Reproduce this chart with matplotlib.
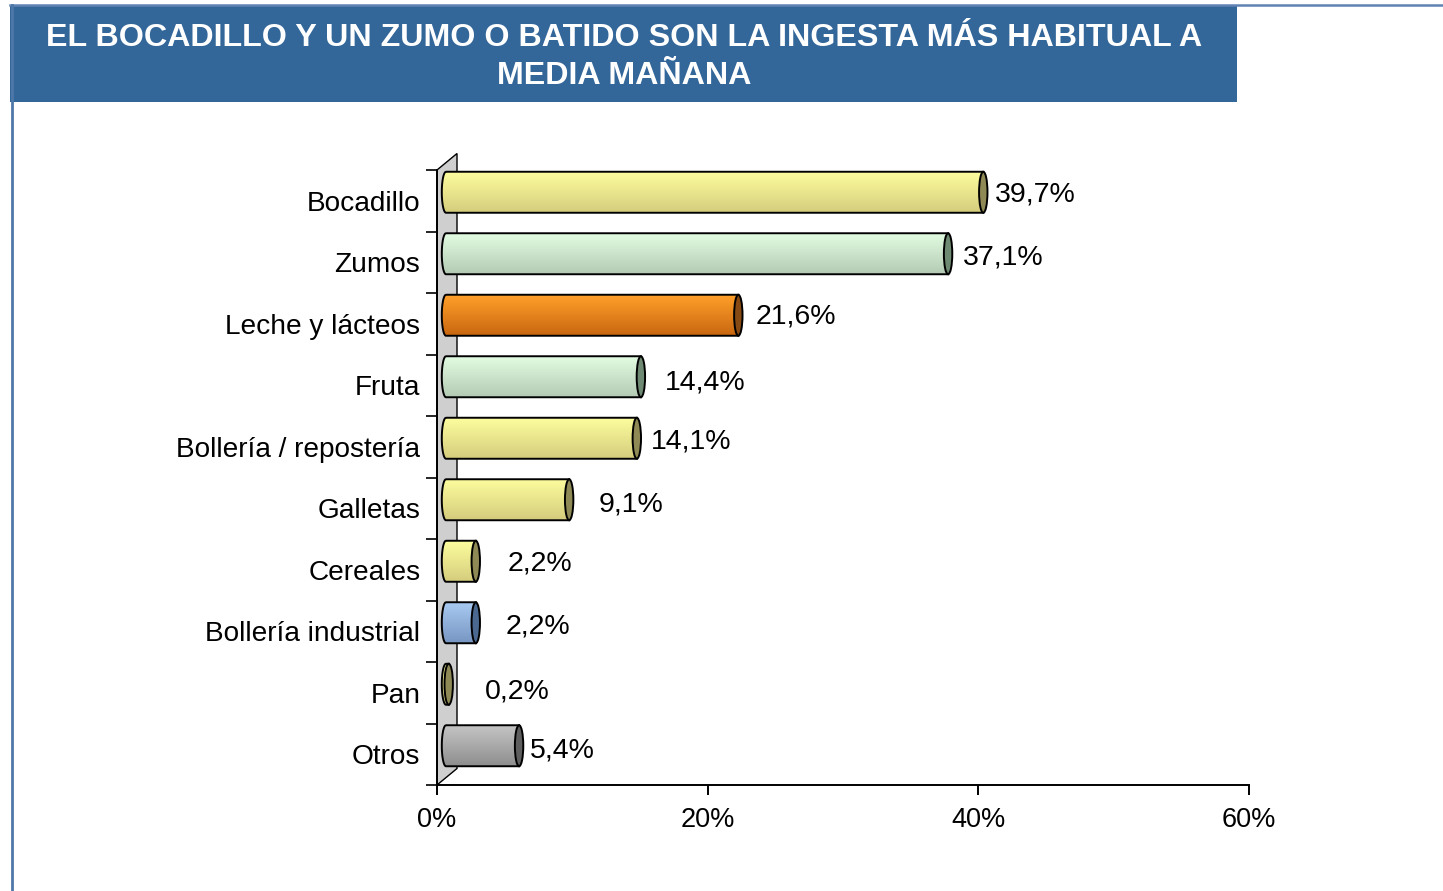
import matplotlib
matplotlib.use("Agg")
import matplotlib.pyplot as plt
import numpy as np
from matplotlib.patches import Rectangle, Ellipse, Polygon, PathPatch
from matplotlib.path import Path
from matplotlib.lines import Line2D
from matplotlib.colors import to_rgb

plt.rcParams['font.family'] = ['Liberation Sans', 'DejaVu Sans']

# ---------------- data ----------------
title_lines = ["EL BOCADILLO Y UN ZUMO O BATIDO SON LA INGESTA MÁS HABITUAL A",
               "MEDIA MAÑANA"]
categories = ["Bocadillo", "Zumos", "Leche y lácteos", "Fruta",
              "Bollería / repostería", "Galletas", "Cereales",
              "Bollería industrial", "Pan", "Otros"]
values = [39.7, 37.1, 21.6, 14.4, 14.1, 9.1, 2.2, 2.2, 0.2, 5.4]
value_labels = ["39,7%", "37,1%", "21,6%", "14,4%", "14,1%",
                "9,1%", "2,2%", "2,2%", "0,2%", "5,4%"]
color_keys = ["yellow", "green", "orange", "green", "yellow",
              "yellow", "yellow", "blue", "yellow", "grey"]
x_ticks = [0, 20, 40, 60]
x_tick_labels = ["0%", "20%", "40%", "60%"]

# ---------------- styles / positions ----------------
palette = {
    "yellow": ("#fdfd9e", "#d4cc7c", "#8f8a55"),
    "green":  ("#e2fde2", "#b4cab4", "#6f8a72"),
    "orange": ("#ffa02a", "#c8660f", "#864a12"),
    "blue":   ("#a8caf2", "#7896c2", "#4a6890"),
    "grey":   ("#c6c6c6", "#8e8e8e", "#5e5e5e"),
}
# label placement tweaks (pixels): left edge offset from value position, vertical offset
label_dx_px = [21, 24, 26, 33, 23, 38, 41, 39, 45, 20]
label_dy_px = [-6, -4.5, -7, -2.5, -5, -3.5, -6, -4.5, -1, -3.5]

W, H = 1443, 891
fig = plt.figure(figsize=(W / 100, H / 100), dpi=100)
fig.patch.set_facecolor("white")

# banner and frame
fig.patches.append(Rectangle((10 / W, 1 - 102 / H), 1227 / W, 97 / H,
                             transform=fig.transFigure, facecolor="#336699",
                             edgecolor="none", zorder=1))
fig.lines.append(Line2D([10 / W, 1], [1 - 5 / H, 1 - 5 / H], transform=fig.transFigure,
                        color="#5f83b2", lw=1.8, zorder=2))
fig.lines.append(Line2D([11.5 / W, 11.5 / W], [0, 1 - 5 / H], transform=fig.transFigure,
                        color="#4f77a8", lw=2.0, zorder=2))
fig.text(624 / W, 1 - 38 / H, title_lines[0], ha="center", va="center",
         color="white", fontsize=23.2, fontweight="bold")
fig.text(624 / W, 1 - 76 / H, title_lines[1], ha="center", va="center",
         color="white", fontsize=23.2, fontweight="bold")

# axes placement: x 437..1249 px, y 170..785 px
ax_l, ax_r, ax_t, ax_b = 437, 1249, 170, 785
ax = fig.add_axes([ax_l / W, 1 - ax_b / H, (ax_r - ax_l) / W, (ax_b - ax_t) / H])
ax.set_facecolor("none")
n = len(categories)
xmax = 60
ax.set_xlim(0, xmax)
ax.set_ylim(n - 0.5, -0.5)
pxx = (ax_r - ax_l) / xmax          # pixels per percent
pxy = (ax_b - ax_t) / n             # pixels per category

# back wall (3D)
wdx, wdy = 20 / pxx, 16.5 / pxy
wall = Polygon([(0, -0.5), (wdx, -0.5 - wdy), (wdx, n - 0.5 - wdy), (0, n - 0.5)],
               closed=True, facecolor="#cfcfcf", edgecolor="black", lw=1.0,
               zorder=1, clip_on=False)
ax.add_patch(wall)

# bars as cylinders
bx0 = 9 / pxx                # depth offset x
byo = -8.5 / pxy             # depth offset y
bh = 41 / pxy                # bar height
ea = 4.2 / pxx               # half width of end ellipses
for i, (v, ck) in enumerate(zip(values, color_keys)):
    top, bot, cap = palette[ck]
    yc = i + byo
    yt, yb = yc - bh / 2, yc + bh / 2
    x0 = bx0
    x1 = bx0 + v
    t = np.linspace(np.pi / 2, 3 * np.pi / 2, 40)
    lx = x0 + ea * np.cos(t)
    ly = yc - (bh / 2) * np.sin(t)
    verts = list(zip(lx, ly)) + [(x1, yb), (x1, yt), (lx[0], ly[0])]
    path = Path(verts, closed=False)
    c1, c2 = np.array(to_rgb(top)), np.array(to_rgb(bot))
    f = np.linspace(0, 1, 64)[:, None]
    grad = (c1 * (1 - f) + c2 * f)[:, None, :]
    im = ax.imshow(grad, extent=[x0 - ea, x1, yb, yt], aspect="auto",
                   interpolation="bilinear", zorder=3)
    pp = PathPatch(path, facecolor="none", edgecolor="none")
    ax.add_patch(pp)
    im.set_clip_path(pp)
    ax.add_patch(PathPatch(path, facecolor="none", edgecolor="black", lw=1.4, zorder=4))
    ax.add_patch(Ellipse((x1, yc), 2 * ea, bh, facecolor=cap, edgecolor="black",
                         lw=1.4, zorder=5))
    ax.text(v + label_dx_px[i] / pxx, i + label_dy_px[i] / pxy, value_labels[i],
            ha="left", va="center", fontsize=20.5, color="black", zorder=6)

ax.set_xlim(0, xmax)
ax.set_ylim(n - 0.5, -0.5)

# spines and ticks
for s in ["top", "right"]:
    ax.spines[s].set_visible(False)
ax.spines["left"].set_linewidth(1.4)
ax.spines["bottom"].set_linewidth(1.4)
ax.spines["left"].set_zorder(2)

ax.set_xticks(x_ticks)
ax.set_xticklabels(x_tick_labels, fontsize=19.5)
ax.tick_params(axis="x", direction="out", length=7.5, width=1.4, pad=8)

ax.set_yticks(np.arange(n + 1) - 0.5)
ax.set_yticklabels([])
ax.tick_params(axis="y", which="major", direction="out", length=8, width=1.2)
ax.set_yticks(np.arange(n), minor=True)
ax.set_yticklabels(categories, minor=True, fontsize=20.2)
ax.tick_params(axis="y", which="minor", length=0, pad=12)

fig.savefig("out.png", dpi=100, facecolor="white")
